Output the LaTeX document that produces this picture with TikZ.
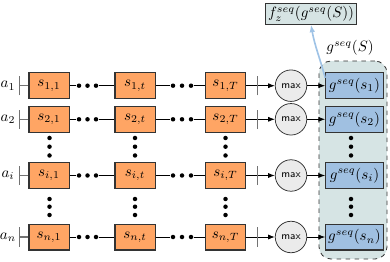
\documentclass[tikz,border=0pt]{standalone}
\usepackage{xcolor}
\usepackage{tikz}
\usetikzlibrary{arrows.meta,positioning,shapes.geometric,calc}
\definecolor{sorange}{HTML}{FFA564}
\definecolor{gblue}{HTML}{A0C0E1}
\definecolor{contfill}{HTML}{D6E4E4}
\definecolor{maxfill}{HTML}{EBEBEB}
\definecolor{upblue}{HTML}{9FC3E6}

\begin{document}
\begin{tikzpicture}[x=0.6667pt,y=-0.6667pt,line width=0.55pt,
  sbox/.style={rectangle,draw=black!80,fill=sorange,line width=0.7pt,minimum width=26.7pt,minimum height=17.3pt,inner sep=0pt},
  gbox/.style={rectangle,draw=black!80,fill=gblue,line width=0.7pt,minimum width=38.4pt,minimum height=17.3pt,inner sep=0pt},
  maxc/.style={circle,draw=black!80,fill=maxfill,line width=0.5pt,minimum size=21pt,inner sep=0pt,font=\scriptsize\sffamily},
  dotn/.style={circle,fill=black,minimum size=3pt,inner sep=0pt}]
  \useasboundingbox (0,0) rectangle (390,262);
  % container of the g boxes
  \node[rectangle,draw=black!80,dashed,fill=contfill,rounded corners=8pt,minimum width=45.3pt,minimum height=132pt] (cont) at (353,160) {};
  \node (glab) at (350,48) {$g^{seq}(S)$};
  \node[rectangle,draw=black!80,fill=contfill,line width=0.7pt,minimum width=60.7pt,minimum height=14pt,inner sep=0pt] (f) at (311,13.7) {$f^{seq}_{z}(g^{seq}(S))$};
  % rows
  \foreach \r/\y/\i in {1/85.7/1,2/119.3/2,3/175.5/i,4/237/n}{
    \node (a\r) at (8,\y) {$a_{\i}$};
    \coordinate (b\r) at (19,\y);
    \node[sbox] (s\r-1) at (49,\y) {$s_{\i,1}$};
    \node[sbox] (s\r-t) at (135,\y) {$s_{\i,t}$};
    \node[sbox] (s\r-T) at (225.5,\y) {$s_{\i,T}$};
    \node[dotn] (p\r-1) at (79,\y) {};
    \node[dotn] (p\r-2) at (87.5,\y) {};
    \node[dotn] (p\r-3) at (96,\y) {};
    \node[dotn] (q\r-1) at (173,\y) {};
    \node[dotn] (q\r-2) at (182,\y) {};
    \node[dotn] (q\r-3) at (191,\y) {};
    \coordinate (c\r) at (257,\y);
    \node[maxc] (m\r) at (291,\y) {max};
    \node[gbox] (g\r) at (354.5,\y) {$g^{seq}(s_{\i})$};
    \draw[black!55,line width=0.8pt,{Bar[width=13pt]}-] (b\r) -- (s\r-1);
    \draw (s\r-1) -- (p\r-1);
    \draw (p\r-3) -- (s\r-t);
    \draw (s\r-t) -- (q\r-1);
    \draw (q\r-3) -- (s\r-T);
    \draw (s\r-T) -- (c\r);
    \draw[{Bar[width=13pt,color=black!55,line width=0.8pt]}-{Latex[length=4.5pt]}] (c\r) -- (m\r);
    \draw[-{Latex[length=4.5pt]}] (m\r) -- (g\r);
  }
  % vertical dots
  \foreach \x in {49.5,135,225.5,351}{
    \foreach \y in {138,146.7,155.5,199,206.7,215}{
      \node[dotn] at (\x,\y) {};
    }
  }
  \draw[upblue,line width=1.1pt,-{Latex[length=5pt]}] (g1.165) to[out=105,in=-80] (f.south);
\end{tikzpicture}
\end{document}
